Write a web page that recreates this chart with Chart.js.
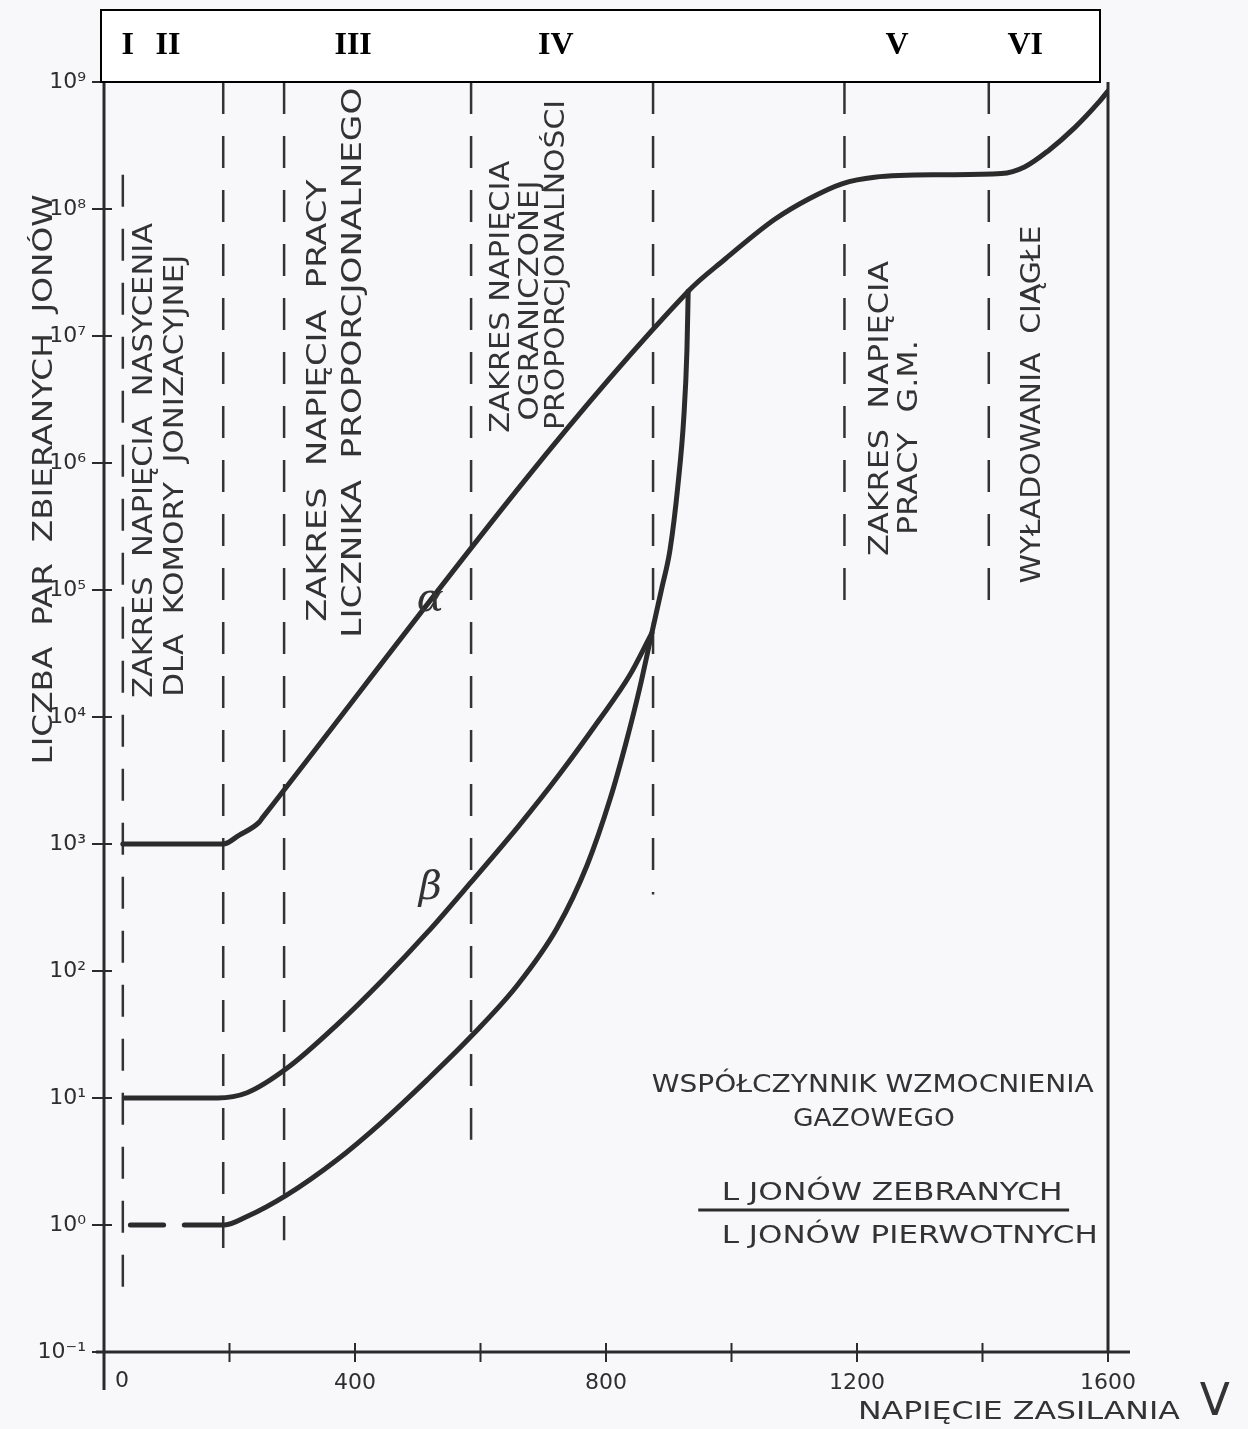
<!DOCTYPE html>
<html lang="pl">
<head>
<meta charset="utf-8">
<title>Liczba par jonów a napięcie zasilania</title>
<script src="https://cdn.jsdelivr.net/npm/chart.js@4.4.1/dist/chart.umd.min.js"></script>
<style>
  html, body { margin: 0; padding: 0; background: #f8f8fa; }
  #wrap { position: relative; width: 1248px; height: 1429px; }
</style>
</head>
<body>
<div id="wrap"><canvas id="chart" width="1248" height="1429"></canvas></div>
<script>
// Krzywe: napięcie zasilania [V] -> liczba zbieranych par jonów
const alphaVolts = [30, 190, 215, 247, 253, 931, 989, 1069, 1123, 1176, 1228, 1335, 1430, 1467, 1505, 1547, 1585, 1600];
const alphaIons = [1.0e3, 1.0e3, 1.17e3, 1.48e3, 1.62e3, 2.25e7, 4.0e7, 8.3e7, 1.2e8, 1.58e8, 1.78e8, 1.86e8, 1.9e8, 2.14e8, 2.88e8, 4.37e8, 6.9e8, 8.5e8];

const betaVolts = [33, 181, 228, 292, 372, 444, 516, 585, 661, 725, 789, 837, 873];
const betaIons = [10, 10, 11.0, 17.2, 38, 85, 203, 501, 1390, 3490, 9460, 21000, 45800];

// the lowest curve starts as a broken dash
const gammaVolts = [42, 95, 110, 128, 192, 227, 291, 371, 443, 515, 587, 659, 722, 770, 807, 832, 853, 873, 889, 902, 915, 924, 929, 931];
const gammaIons = [1, 1, null, 1, 1, 1.16, 1.72, 3.25, 6.47, 13.9, 31.3, 77.6, 218, 684, 2300, 6300, 16300, 45800, 1.04e5, 2.07e5, 6.97e5, 2.3e6, 7.76e6, 2.25e7];

// granice zakresów (linie przerywane)
const boundaryVolts = [30, 190, 287, 585, 875, 1180, 1410];
const boundaryTop = [1.86e8, 1e9, 1e9, 1e9, 1e9, 1e9, 1e9];
const boundaryBottom = [0.31, 0.49, 0.76, 4.7, 400, 7.6e4, 7.6e4];

const regionNames = ['I', 'II', 'III', 'IV', 'V', 'VI'];
const regionCenters = [38, 102, 397, 720, 1264, 1468];

const xTickValues = [0, 200, 400, 600, 800, 1000, 1200, 1400, 1600];
const xTickLabels = ['', '', '400', '', '800', '', '1200', '', '1600'];
const yTickValues = [1e-1, 1e0, 1e1, 1e2, 1e3, 1e4, 1e5, 1e6, 1e7, 1e8, 1e9];
const yTickLabels = ['10⁻¹', '10⁰', '10¹', '10²', '10³', '10⁴', '10⁵', '10⁶', '10⁷', '10⁸', '10⁹'];

// opisy pionowe (v = napięcie, e = wykładnik, len = długość napisu w px)
const verticalNotes = [
    { text: 'ZAKRES  NAPIĘCIA  NASYCENIA', v: 65, e: 6.02, len: 475 },
    { text: 'DLA  KOMORY  JONIZACYJNEJ', v: 115, e: 5.90, len: 442 },
    { text: 'ZAKRES  NAPIĘCIA  PRACY', v: 343, e: 6.49, len: 442 },
    { text: 'LICZNIKA  PROPORCJONALNEGO', v: 398, e: 6.79, len: 550 },
    { text: 'ZAKRES NAPIĘCIA', v: 634, e: 7.31, len: 272 },
    { text: 'OGRANICZONEJ', v: 680, e: 7.28, len: 240 },
    { text: 'PROPORCJONALNOŚCI', v: 722, e: 7.56, len: 330 },
    { text: 'ZAKRES  NAPIĘCIA', v: 1238, e: 6.43, len: 295 },
    { text: 'PRACY  G.M.', v: 1284, e: 6.20, len: 195 },
    { text: 'WYŁADOWANIA  CIĄGŁE', v: 1480, e: 6.46, len: 358 }
];

const legendNotes = [
    { text: 'WSPÓŁCZYNNIK WZMOCNIENIA', v: 1225, e: 1.10, len: 442 },
    { text: 'GAZOWEGO', v: 1227, e: 0.83, len: 162 },
    { text: 'L JONÓW ZEBRANYCH', v: 1256, e: 0.25, len: 341 },
    { text: 'L JONÓW PIERWOTNYCH', v: 1284, e: -0.087, len: 376 }
];

const INK = '#2b2b2b';
const HAND = '"DejaVu Sans", sans-serif';

function pairs(xs, ys) {
    return xs.map((x, i) => ({ x: x, y: ys[i] }));
}

function curve(label, xs, ys) {
    return {
        label: label,
        data: pairs(xs, ys),
        borderColor: INK,
        borderWidth: 5,
        pointRadius: 0,
        cubicInterpolationMode: 'monotone',
        spanGaps: false,
        borderCapStyle: 'round',
        borderJoinStyle: 'round'
    };
}

const boundarySets = boundaryVolts.map((v, i) => ({
    label: 'granica ' + (i + 1),
    data: [{ x: v, y: boundaryTop[i] }, { x: v, y: boundaryBottom[i] }],
    borderColor: '#333',
    borderWidth: 2.5,
    borderDash: [32, 22],
    pointRadius: 0,
    tension: 0
}));

function fitText(ctx, text, cx, cy, len, font, vertical) {
    ctx.save();
    ctx.translate(cx, cy);
    if (vertical) ctx.rotate(-Math.PI / 2);
    ctx.font = font;
    const w = ctx.measureText(text).width;
    ctx.scale(len / w, 1);
    ctx.textAlign = 'center';
    ctx.textBaseline = 'middle';
    ctx.fillText(text, 0, 0);
    ctx.restore();
}

const sketchPlugin = {
    id: 'sketch',
    beforeDraw(chart) {
        const ctx = chart.ctx;
        ctx.save();
        ctx.fillStyle = '#f8f8fa';
        ctx.fillRect(0, 0, chart.width, chart.height);
        ctx.restore();
    },
    beforeDatasetsDraw(chart) {
        const { ctx, chartArea: a, scales } = chart;
        ctx.save();
        ctx.strokeStyle = INK;
        ctx.lineWidth = 3;
        ctx.beginPath();
        ctx.moveTo(a.left, a.top);
        ctx.lineTo(a.left, a.bottom + 38);
        ctx.moveTo(a.left - 8, a.bottom);
        ctx.lineTo(a.right + 22, a.bottom);
        ctx.moveTo(a.right, a.top);
        ctx.lineTo(a.right, a.bottom);
        ctx.stroke();

        // krzyżujące się znaczniki osi
        ctx.lineWidth = 2;
        ctx.beginPath();
        scales.x.ticks.forEach(t => {
            const px = scales.x.getPixelForValue(t.value);
            if (px <= a.left + 1) return;
            ctx.moveTo(px, a.bottom - 9);
            ctx.lineTo(px, a.bottom + 10);
        });
        scales.y.ticks.forEach(t => {
            const py = scales.y.getPixelForValue(t.value);
            ctx.moveTo(a.left - 12, py);
            ctx.lineTo(a.left + 8, py);
        });
        ctx.stroke();
        ctx.restore();
    },
    afterDraw(chart) {
        const { ctx, chartArea: a, scales } = chart;
        const x = scales.x, y = scales.y;
        ctx.save();

        // ramka z numerami zakresów
        ctx.fillStyle = '#ffffff';
        ctx.fillRect(a.left - 3, 10, a.right - a.left - 5, a.top - 10);
        ctx.strokeStyle = '#000';
        ctx.lineWidth = 2;
        ctx.strokeRect(a.left - 3, 10, a.right - a.left - 5, a.top - 10);
        ctx.fillStyle = '#000';
        ctx.font = 'bold 32px "Liberation Serif", serif';
        ctx.textAlign = 'center';
        ctx.textBaseline = 'middle';
        regionNames.forEach((n, i) => {
            ctx.fillText(n, x.getPixelForValue(regionCenters[i]), 46);
        });

        ctx.fillStyle = '#333';
        verticalNotes.forEach(n => {
            fitText(ctx, n.text, x.getPixelForValue(n.v), y.getPixelForValue(Math.pow(10, n.e)),
                n.len, '27px ' + HAND, true);
        });
        legendNotes.forEach(n => {
            fitText(ctx, n.text, x.getPixelForValue(n.v), y.getPixelForValue(Math.pow(10, n.e)),
                n.len, '25px ' + HAND, false);
        });

        // kreska ułamkowa
        ctx.strokeStyle = INK;
        ctx.lineWidth = 3;
        const ly = y.getPixelForValue(Math.pow(10, 0.118));
        ctx.beginPath();
        ctx.moveTo(x.getPixelForValue(947), ly);
        ctx.lineTo(x.getPixelForValue(1538), ly);
        ctx.stroke();

        // litery greckie przy krzywych
        ctx.font = 'italic 40px "DejaVu Serif", serif';
        ctx.textAlign = 'center';
        ctx.textBaseline = 'middle';
        ctx.fillText('α', x.getPixelForValue(520), y.getPixelForValue(Math.pow(10, 4.92)));
        ctx.fillText('β', x.getPixelForValue(520), y.getPixelForValue(Math.pow(10, 2.65)));

        // "0" sits right of the axis line, as in the drawing
        ctx.fillStyle = '#2e2e2e';
        ctx.font = '22px ' + HAND;
        ctx.fillText('0', a.left + 18, a.bottom + 29);

        // tytuły osi
        ctx.fillStyle = '#333';
        fitText(ctx, 'LICZBA  PAR  ZBIERANYCH  JONÓW', a.left - 59,
            y.getPixelForValue(Math.pow(10, 5.87)), 570, '26px ' + HAND, true);
        fitText(ctx, 'NAPIĘCIE ZASILANIA', x.getPixelForValue(1458), a.bottom + 60, 322, '25px ' + HAND, false);
        ctx.font = '44px ' + HAND;
        ctx.fillText('V', x.getPixelForValue(1770), a.bottom + 52);
        ctx.restore();
    }
};

new Chart(document.getElementById('chart'), {
    type: 'line',
    data: {
        datasets: [
            curve('α', alphaVolts, alphaIons),
            curve('β', betaVolts, betaIons),
            curve('γ', gammaVolts, gammaIons)
        ].concat(boundarySets)
    },
    options: {
        responsive: false,
        animation: false,
        layout: { padding: { top: 82, right: 140, left: 0, bottom: 0 } },
        plugins: {
            legend: { display: false },
            tooltip: { enabled: false }
        },
        scales: {
            x: {
                type: 'linear',
                min: 0,
                max: 1600,
                grid: { display: false, drawTicks: false },
                border: { display: false },
                afterBuildTicks: s => { s.ticks = xTickValues.map(v => ({ value: v })); },
                afterFit: s => { s.height = 77; },
                ticks: {
                    padding: 18,
                    maxRotation: 0,
                    autoSkip: false,
                    color: '#2e2e2e',
                    font: { family: 'DejaVu Sans', size: 22 },
                    callback: (v, i) => xTickLabels[i]
                }
            },
            y: {
                type: 'logarithmic',
                min: 0.1,
                max: 1e9,
                grid: { display: false, drawTicks: false },
                border: { display: false },
                afterBuildTicks: s => { s.ticks = yTickValues.map(v => ({ value: v })); },
                afterFit: s => { s.width = 104; },
                ticks: {
                    padding: 18,
                    autoSkip: false,
                    color: '#2e2e2e',
                    font: { family: 'DejaVu Sans', size: 22 },
                    callback: (v, i) => yTickLabels[i]
                }
            }
        }
    },
    plugins: [sketchPlugin]
});
</script>
</body>
</html>
